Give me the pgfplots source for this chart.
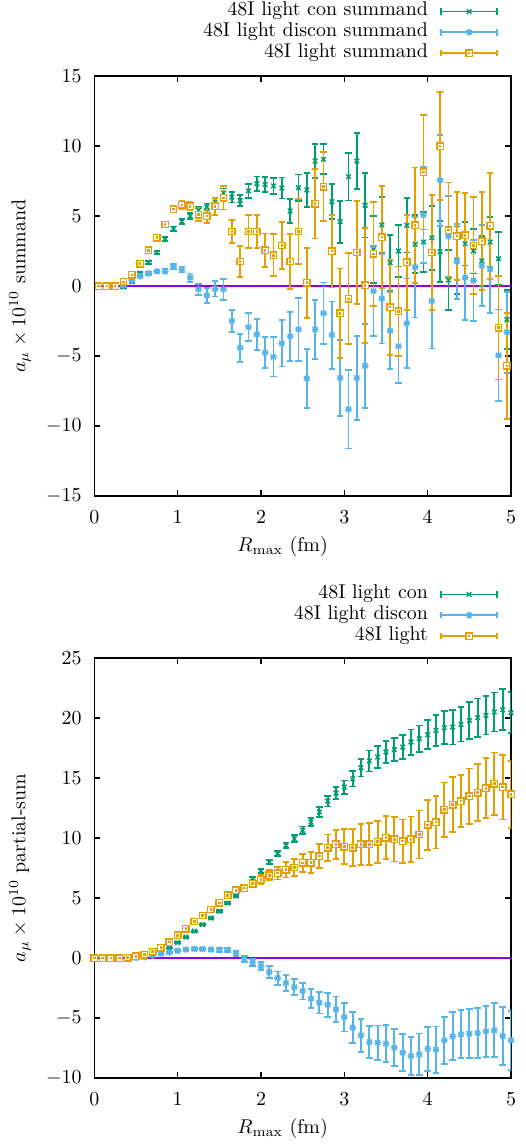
\documentclass[border=0pt]{standalone}
\usepackage{pgfplots}
\usepackage{pgfplotstable}
\pgfplotsset{compat=1.18}
\definecolor{cgreen}{HTML}{009E73}
\definecolor{cblue}{HTML}{56B4E9}
\definecolor{corange}{HTML}{E69F00}
\definecolor{cpurple}{HTML}{9400D3}
\pgfdeclareplotmark{star8}{%
 \pgfpathmoveto{\pgfpoint{-\pgfplotmarksize}{0pt}}\pgfpathlineto{\pgfpoint{\pgfplotmarksize}{0pt}}%
 \pgfpathmoveto{\pgfpoint{0pt}{-\pgfplotmarksize}}\pgfpathlineto{\pgfpoint{0pt}{\pgfplotmarksize}}%
 \pgfpathmoveto{\pgfpoint{-0.75\pgfplotmarksize}{-0.75\pgfplotmarksize}}\pgfpathlineto{\pgfpoint{0.75\pgfplotmarksize}{0.75\pgfplotmarksize}}%
 \pgfpathmoveto{\pgfpoint{-0.75\pgfplotmarksize}{0.75\pgfplotmarksize}}\pgfpathlineto{\pgfpoint{0.75\pgfplotmarksize}{-0.75\pgfplotmarksize}}%
 \pgfusepathqstroke}
\pgfdeclareplotmark{sqdot}{%
 \pgfpathrectangle{\pgfpoint{-\pgfplotmarksize}{-\pgfplotmarksize}}{\pgfpoint{2\pgfplotmarksize}{2\pgfplotmarksize}}%
 \pgfusepathqfillstroke
 \pgfpathrectangle{\pgfpoint{-0.3bp}{-0.3bp}}{\pgfpoint{0.6bp}{0.6bp}}%
 \pgfusepathqstroke}

% ---------- top panel: summands ----------
\pgfplotstableread{
x y e
0.05 0 0.02
0.15 0 0.02
0.25 0 0.03
0.35 -0.08 0.05
0.45 0.3 0.06
0.55 0.9 0.08
0.65 1.7 0.1
0.75 2.4 0.12
0.85 3.35 0.14
0.95 4.1 0.15
1.05 4.6 0.17
1.15 5.0 0.2
1.25 5.4 0.22
1.35 5.65 0.25
1.45 6.0 0.28
1.55 6.65 0.32
1.65 6.35 0.38
1.75 6.1 0.4
1.85 6.8 0.5
1.95 7.3 0.52
2.05 7.25 0.55
2.15 7.15 0.58
2.25 7.0 0.75
2.35 5.36 0.88
2.45 7.02 0.95
2.55 6.86 1.2
2.65 8.93 1.2
2.75 9.05 1.07
2.85 6.02 1.25
2.95 4.6 1.5
3.05 7.81 1.7
3.15 8.93 2.0
3.25 5.76 2.3
3.35 2.6 2.4
3.45 4.36 2.0
3.55 1.67 2.0
3.65 2.5 1.86
3.75 4.33 1.94
3.85 2.98 2.07
3.95 3.14 2.14
4.05 3.45 2.28
4.15 2.45 2.18
4.25 0.42 2.15
4.35 1.85 2.4
4.45 3.02 1.55
4.55 2.5 1.6
4.65 1.8 1.8
4.75 3.14 1.8
4.85 1.95 1.9
4.95 -2.4 2.1
}\tcon
\pgfplotstableread{
x y e
0.05 0 0.02
0.15 0 0.02
0.25 0 0.03
0.35 0.05 0.05
0.45 0.4 0.06
0.55 0.7 0.08
0.65 0.9 0.1
0.75 1.05 0.12
0.85 1.05 0.14
0.95 1.4 0.18
1.05 1.2 0.2
1.15 0.6 0.3
1.25 -0.24 0.4
1.35 -0.67 0.55
1.45 -0.2 0.55
1.55 -0.24 0.75
1.65 -2.5 0.8
1.75 -4.4 1.0
1.85 -2.93 1.0
1.95 -3.45 1.1
2.05 -4.76 1.1
2.15 -5.07 1.4
2.25 -4.1 1.65
2.35 -3.6 1.75
2.45 -3.1 2.25
2.55 -6.6 2.1
2.65 -3.1 2.1
2.75 -1.95 2.2
2.85 -3.5 2.4
2.95 -6.57 2.7
3.05 -8.8 2.8
3.15 -6.57 3.0
3.25 -5.7 3.0
3.35 -0.36 3.2
3.45 -0.9 3.2
3.55 -3.2 2.75
3.65 -4.3 2.65
3.75 -2.67 3.2
3.85 1.35 3.6
3.95 5.07 3.45
4.05 -1.07 3.4
4.15 7.55 3.25
4.25 3.55 2.9
4.35 1.75 2.7
4.45 0.6 3.0
4.55 0.4 2.9
4.65 1.45 2.9
4.75 1.2 3.1
4.85 -4.95 3.27
4.95 -3.3 2.9
}\tdis
\pgfplotstableread{
x y e
0.05 0 0.05
0.15 0 0.05
0.25 0 0.05
0.35 0.3 0.08
0.45 0.8 0.1
0.55 1.6 0.12
0.65 2.55 0.15
0.75 3.45 0.18
0.85 4.4 0.2
0.95 5.5 0.25
1.05 5.8 0.28
1.15 5.7 0.3
1.25 5.1 0.45
1.35 5.0 0.5
1.45 5.7 0.6
1.55 6.3 0.83
1.65 3.9 0.83
1.75 1.75 1.1
1.85 3.9 1.2
1.95 3.9 1.2
2.05 2.55 1.2
2.15 2.2 1.5
2.25 2.9 1.7
2.35 1.75 1.95
2.45 3.9 2.33
2.55 0.24 2.5
2.65 5.88 2.48
2.75 7.1 2.45
2.85 2.5 2.6
2.95 -1.95 3.2
3.05 -0.92 3.25
3.15 2.4 3.67
3.25 0.05 4.1
3.35 2.3 3.7
3.45 3.5 3.64
3.55 -1.5 3.4
3.65 -1.8 3.2
3.75 1.7 3.4
3.85 4.33 4.14
3.95 8.14 4.1
4.05 2.4 4.1
4.15 10.0 3.85
4.25 4.0 3.4
4.35 3.57 3.15
4.45 3.62 3.05
4.55 2.9 3.48
4.65 3.21 3.5
4.75 4.29 3.78
4.85 -2.98 3.7
4.95 -5.7 3.8
}\tlight

% ---------- bottom panel: partial sums ----------
\pgfplotstableread{
x y e
0.0 0 0.01
0.1 0 0.01
0.2 0 0.01
0.3 0 0.01
0.4 0 0.01
0.5 0.02 0.01
0.6 0.08 0.02
0.7 0.25 0.02
0.8 0.48 0.03
0.9 0.84 0.03
1.0 1.28 0.04
1.1 1.75 0.05
1.2 2.25 0.05
1.3 2.78 0.06
1.4 3.33 0.07
1.5 3.9 0.08
1.6 4.58 0.09
1.7 5.17 0.1
1.8 5.88 0.12
1.9 6.58 0.14
2.0 7.25 0.16
2.1 8.0 0.18
2.2 8.7 0.2
2.3 9.39 0.24
2.4 9.94 0.28
2.5 10.64 0.32
2.6 11.33 0.36
2.7 12.17 0.42
2.8 13.08 0.45
2.9 13.75 0.5
3.0 14.25 0.55
3.1 14.94 0.65
3.2 15.86 0.73
3.3 16.42 0.87
3.4 16.75 0.9
3.5 17.17 0.9
3.6 17.36 0.95
3.7 17.58 1.0
3.8 18.0 1.05
3.9 18.28 1.1
4.0 18.61 1.2
4.1 18.97 1.3
4.2 19.19 1.38
4.3 19.25 1.45
4.4 19.47 1.42
4.5 19.8 1.55
4.6 20.03 1.6
4.7 20.22 1.6
4.8 20.5 1.62
4.9 20.69 1.7
5.0 20.44 1.7
}\pcon
\pgfplotstableread{
x y e
0.0 0 0.01
0.1 0 0.01
0.2 0 0.01
0.3 0 0.01
0.4 0 0.01
0.5 0.02 0.01
0.6 0.08 0.02
0.7 0.22 0.02
0.8 0.36 0.03
0.9 0.47 0.03
1.0 0.6 0.04
1.1 0.7 0.06
1.2 0.76 0.08
1.3 0.75 0.1
1.4 0.7 0.12
1.5 0.67 0.14
1.6 0.65 0.16
1.7 0.4 0.2
1.8 -0.05 0.25
1.9 -0.35 0.3
2.0 -0.67 0.35
2.1 -1.17 0.5
2.2 -1.67 0.55
2.3 -2.08 0.65
2.4 -2.42 0.67
2.5 -2.75 0.7
2.6 -3.39 0.8
2.7 -3.72 0.9
2.8 -3.89 1.0
2.9 -4.28 1.08
3.0 -4.92 1.2
3.1 -5.8 1.3
3.2 -6.44 1.36
3.3 -7.0 1.36
3.4 -7.06 1.43
3.5 -7.14 1.53
3.6 -7.47 1.53
3.7 -7.89 1.53
3.8 -8.17 1.6
3.9 -8.03 1.74
4.0 -7.56 1.83
4.1 -7.64 1.93
4.2 -6.86 1.97
4.3 -6.53 2.0
4.4 -6.36 2.0
4.5 -6.31 2.03
4.6 -6.25 2.08
4.7 -6.11 2.13
4.8 -6.03 2.25
4.9 -6.5 2.4
5.0 -6.86 2.45
}\pdis
\pgfplotstableread{
x y e
0.0 0 0.01
0.1 0 0.01
0.2 0 0.01
0.3 0 0.01
0.4 0.03 0.01
0.5 0.14 0.02
0.6 0.28 0.03
0.7 0.55 0.04
0.8 0.86 0.05
0.9 1.33 0.06
1.0 1.9 0.08
1.1 2.44 0.1
1.2 3.05 0.12
1.3 3.55 0.14
1.4 4.05 0.16
1.5 4.6 0.18
1.6 5.22 0.2
1.7 5.64 0.22
1.8 5.83 0.25
1.9 6.2 0.3
2.0 6.55 0.35
2.1 6.9 0.42
2.2 7.08 0.53
2.3 7.36 0.65
2.4 7.55 0.7
2.5 7.92 0.75
2.6 7.95 0.87
2.7 8.5 1.0
2.8 9.19 1.1
2.9 9.47 1.2
3.0 9.28 1.45
3.1 9.19 1.55
3.2 9.47 1.7
3.3 9.47 1.75
3.4 9.7 1.75
3.5 10.03 1.8
3.6 9.89 1.85
3.7 9.75 1.8
3.8 9.89 1.9
3.9 10.3 2.0
4.0 11.1 2.1
4.1 11.33 2.2
4.2 12.36 2.27
4.3 12.78 2.3
4.4 13.08 2.15
4.5 13.5 2.3
4.6 13.78 2.36
4.7 14.14 2.5
4.8 14.53 2.6
4.9 14.25 2.7
5.0 13.64 2.8
}\plight

\pgfplotsset{
 gp axis/.style={
  width=208.35bp, height=210bp, scale only axis,
  xmin=0, xmax=5, xtick={0,1,2,3,4,5},
  tick align=inside, major tick length=3bp,
  axis line style={line width=0.8bp},
  every tick/.style={black, line width=0.8bp},
  xticklabel style={yshift=-4bp},
  yticklabel style={xshift=-2.8bp},
  xlabel={$R_{\mathrm{max}}$ (fm)},
  xlabel style={at={(axis description cs:0.452,-0.121)}, anchor=center},
  ylabel style={at={(axis description cs:-0.178,0.5)}, anchor=center},
  legend plot pos=right,
  legend cell align=right,
  legend style={draw=none, fill=none, column sep=6.15bp, row sep=0pt, inner sep=0pt, outer sep=0pt,
    nodes={inner sep=0pt, text height=7.4bp, text depth=3bp}},
 },
 eb/.style={only marks, error bars/.cd, y dir=both, y explicit, error mark=-,
   error bar style={line width=0.9bp}, error mark options={rotate=90, line width=0.9bp, mark size=1.6bp}},
 gimg/.style={legend image code/.code={
   \draw[line width=0.9bp] (0bp,0bp) -- (28bp,0bp);
   \draw[line width=0.9bp] (0bp,-1.6bp) -- (0bp,1.6bp) (28bp,-1.6bp) -- (28bp,1.6bp);
   \draw plot coordinates {(14bp,0bp)};}},
 sgreen/.style={cgreen, mark=x, mark size=1.6bp, mark options={line width=0.75bp}, gimg},
 sblue/.style={cblue, mark=star8, mark size=1.7bp, mark options={line width=0.7bp}, gimg},
 sorange/.style={corange, mark=sqdot, mark size=1.6bp, mark options={line width=0.7bp, fill=white}, gimg},
}

\begin{document}
\begin{tikzpicture}
\useasboundingbox (0bp,0bp) rectangle (263bp,-572bp);
\begin{axis}[gp axis,
  at={(47.15bp,-248bp)}, anchor=south west,
  ymin=-15, ymax=15, ytick={-15,-10,-5,0,5,10,15},
  ylabel={$a_\mu\times 10^{10}$ summand},
  legend style={at={(axis description cs:0.969,1.104)}, anchor=east}]
\addplot[cpurple, line width=0.8bp, forget plot] coordinates {(0,0) (5,0)};
\addplot[sgreen, eb] table[x=x, y=y, y error=e] {\tcon};
\addlegendentry{48I light con summand}
\addplot[sblue, eb] table[x=x, y=y, y error=e] {\tdis};
\addlegendentry{48I light discon summand}
\addplot[sorange, eb] table[x=x, y=y, y error=e] {\tlight};
\addlegendentry{48I light summand}
\end{axis}
\begin{axis}[gp axis,
  at={(47.15bp,-539bp)}, anchor=south west,
  ymin=-10, ymax=25, ytick={-10,-5,0,5,10,15,20,25},
  ylabel={$a_\mu\times 10^{10}$ partial-sum},
  legend style={at={(axis description cs:0.969,1.1017)}, anchor=east}]
\addplot[cpurple, line width=0.8bp, forget plot] coordinates {(0,0) (5,0)};
\addplot[sgreen, eb] table[x=x, y=y, y error=e] {\pcon};
\addlegendentry{48I light con}
\addplot[sblue, eb] table[x=x, y=y, y error=e] {\pdis};
\addlegendentry{48I light discon}
\addplot[sorange, eb] table[x=x, y=y, y error=e] {\plight};
\addlegendentry{48I light}
\end{axis}
\end{tikzpicture}
\end{document}
